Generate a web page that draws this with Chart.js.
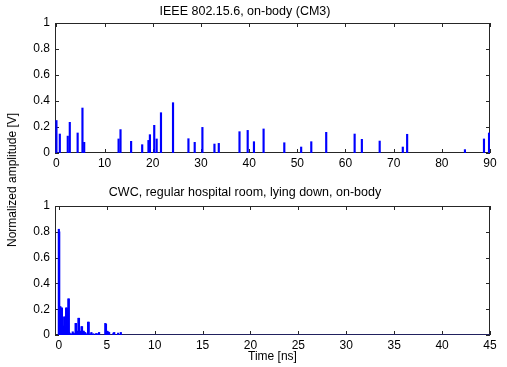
<!DOCTYPE html>
<html>
<head>
<meta charset="utf-8">
<script src="https://cdn.jsdelivr.net/npm/chart.js@4.4.1/dist/chart.umd.min.js"></script>
<style>
body { margin: 0; background: #fff; }
#wrap { position: relative; width: 507px; height: 367px; font-family: "Liberation Sans", Arial, sans-serif; }
canvas { position: absolute; left: 0; }
#ylab { position: absolute; left: 12px; top: 180px; transform: translate(-50%, -50%) rotate(-90deg); font-size: 12px; white-space: nowrap; color: #000; }
</style>
</head>
<body>
<div id="wrap">
  <canvas id="top" width="507" height="170" style="top:0"></canvas>
  <canvas id="bottom" width="507" height="197" style="top:170px"></canvas>
  <div id="ylab">Normalized amplitude [V]</div>
</div>
<script>
// IEEE 802.15.6 CM3 impulse response
var ieeeTime = [0, 0.7, 2.35, 2.77, 4.4, 5.4, 5.76, 12.9, 13.3, 15.5, 17.8, 19.1, 19.4, 20.3, 20.8, 21.7,
  24.2, 27.4, 28.7, 30.3, 32.8, 33.7, 38.0, 39.7, 41.0, 43.0, 47.3, 50.8, 52.9, 56.0, 61.9, 63.4,
  67.1, 71.9, 72.8, 84.8, 88.75, 89.8];
var ieeeAmp = [0.25, 0.146, 0.13, 0.236, 0.154, 0.346, 0.082, 0.108, 0.18, 0.09, 0.064, 0.097, 0.141, 0.213, 0.108, 0.31,
  0.387, 0.11, 0.082, 0.197, 0.069, 0.074, 0.164, 0.174, 0.087, 0.185, 0.079, 0.046, 0.087, 0.159, 0.146, 0.105,
  0.092, 0.046, 0.144, 0.026, 0.108, 0.154];

// CWC measured response
var cwcTime = [0, 0.04, 0.08, 0.12, 0.16, 0.2, 0.24, 0.28, 0.32, 0.36, 0.4, 0.44, 0.48, 0.52, 0.56, 0.6,
  0.64, 0.68, 0.72, 0.76, 0.8, 0.84, 0.88, 0.92, 0.96, 1.0, 1.04, 1.08, 1.15, 1.3, 1.45, 1.55,
  1.65, 1.75, 1.8, 1.9, 2.0, 2.05, 2.1, 2.2, 2.3, 2.37, 2.42, 2.5, 2.6, 2.75, 2.9, 3.05,
  3.12, 3.3, 3.4, 3.6, 3.9, 4.05, 4.2, 4.85, 4.92, 5.05, 5.15, 5.25, 5.7, 5.78, 6.19, 6.47];
var cwcAmp = [0.82, 0.8, 0.22, 0.21, 0.22, 0.05, 0.21, 0.2, 0.21, 0.06, 0.04, 0.07, 0.03, 0.05, 0.14, 0.14,
  0.04, 0.06, 0.03, 0.21, 0.2, 0.21, 0.05, 0.07, 0.03, 0.28, 0.28, 0.02, 0.01, 0.01, 0.025, 0.015,
  0.01, 0.09, 0.09, 0.03, 0.02, 0.13, 0.13, 0.03, 0.02, 0.065, 0.065, 0.03, 0.03, 0.02, 0.01, 0.1,
  0.1, 0.01, 0.02, 0.01, 0.012, 0.01, 0.02, 0.09, 0.085, 0.03, 0.025, 0.02, 0.015, 0.02, 0.015, 0.02];
var baseTime = [0, 45];
var baseAmp = [0, 0];

var topTicks = [0, 10, 20, 30, 40, 50, 60, 70, 80, 90];
var bottomTicks = [0, 5, 10, 15, 20, 25, 30, 35, 40, 45];
var ampTicks = [0, 0.2, 0.4, 0.6, 0.8, 1];

var font = { family: "'Liberation Sans', Arial, sans-serif", size: 12 };

function pts(xs, ys) {
  return xs.map(function (x, i) { return { x: x, y: ys[i] }; });
}

// matlab style box with inward ticks
var frame = {
  id: "frame",
  beforeDatasetsDraw: function (chart) {
    var ctx = chart.ctx, a = chart.chartArea, sx = chart.scales.x, sy = chart.scales.y;
    ctx.save();
    ctx.strokeStyle = "#262626";
    ctx.lineWidth = 1;
    ctx.strokeRect(Math.round(a.left) + 0.5, Math.round(a.top) + 0.5,
      Math.round(a.width) - 1, Math.round(a.height) - 1);
    ctx.beginPath();
    sx.ticks.forEach(function (t) {
      var p = Math.round(sx.getPixelForValue(t.value)) + 0.5;
      ctx.moveTo(p, a.bottom); ctx.lineTo(p, a.bottom - 4);
      ctx.moveTo(p, a.top); ctx.lineTo(p, a.top + 4);
    });
    sy.ticks.forEach(function (t) {
      var p = Math.round(sy.getPixelForValue(t.value)) + 0.5;
      ctx.moveTo(a.left, p); ctx.lineTo(a.left + 4, p);
      ctx.moveTo(a.right, p); ctx.lineTo(a.right - 4, p);
    });
    ctx.stroke();
    ctx.restore();
  }
};

function makeChart(id, opts) {
  return new Chart(document.getElementById(id), {
    type: "bar",
    data: { datasets: opts.datasets },
    options: {
      responsive: false,
      animation: false,
      devicePixelRatio: 1,
      layout: { padding: { left: 0, right: 17, top: 0, bottom: 0 } },
      plugins: {
        legend: { display: false },
        tooltip: { enabled: false },
        title: {
          display: true,
          text: opts.title,
          color: "#000",
          font: { family: font.family, size: 12.5, weight: "normal", lineHeight: 1.2 },
          padding: opts.titlePad
        }
      },
      scales: {
        x: {
          type: "linear",
          min: opts.xmin,
          max: opts.xmax,
          offset: false,
          grid: { display: false, drawTicks: false },
          border: { display: false },
          ticks: { color: "#000", font: font, padding: 3, maxRotation: 0,
            callback: function (v) { return String(v); } },
          afterBuildTicks: function (s) { s.ticks = opts.xticks.map(function (v) { return { value: v }; }); },
          afterFit: function (s) { s.height = opts.xh; },
          title: opts.xtitle
        },
        y: {
          min: 0,
          max: 1,
          grid: { display: false, drawTicks: false },
          border: { display: false },
          ticks: { color: "#000", font: font, padding: 5,
            callback: function (v) { return String(v); } },
          afterBuildTicks: function (s) { s.ticks = ampTicks.map(function (v) { return { value: v }; }); },
          afterFit: function (s) { s.width = 55; }
        }
      }
    },
    plugins: [frame]
  });
}

makeChart("top", {
  title: "IEEE 802.15.6, on-body (CM3)",
  titlePad: { top: 4, bottom: 4 },
  xmin: -0.3, xmax: 90, xticks: topTicks, xh: 17,
  xtitle: { display: false },
  datasets: [{
    data: pts(ieeeTime, ieeeAmp),
    backgroundColor: "#0000ff",
    barThickness: 1.5
  }]
});

makeChart("bottom", {
  title: "CWC, regular hospital room, lying down, on-body",
  titlePad: { top: 15.5, bottom: 5.5 },
  xmin: -0.4, xmax: 45, xticks: bottomTicks, xh: 32,
  xtitle: { display: true, text: "Time [ns]", color: "#000", font: font, padding: { top: 0, bottom: 3 } },
  datasets: [{
    data: pts(cwcTime, cwcAmp),
    backgroundColor: "#0000ff",
    barThickness: 1.5
  }, {
    type: "line",
    data: pts(baseTime, baseAmp),
    borderColor: "#1c1c96",
    borderWidth: 1.2,
    pointRadius: 0
  }]
});
</script>
</body>
</html>
